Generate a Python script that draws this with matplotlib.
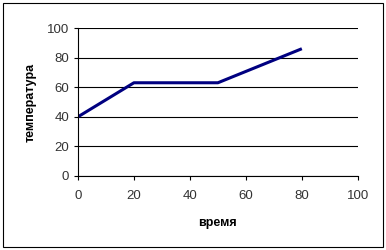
import matplotlib.pyplot as plt
from matplotlib.patches import Rectangle

plt.rcParams['font.family'] = ['Liberation Sans', 'DejaVu Sans']

time = [0, 20, 50, 80]
temp = [40, 63, 63, 86]
ticks = [0, 20, 40, 60, 80, 100]

fig = plt.figure(figsize=(3.86, 2.5), dpi=100)
ax = fig.add_axes([0.202, 0.296, 0.725, 0.592])

ax.plot(time, temp, color='#000080', lw=2.2, solid_capstyle='butt')

ax.set_xlim(0, 100)
ax.set_ylim(0, 100)
ax.set_xticks(ticks)
ax.set_yticks(ticks)
ax.grid(axis='y', color='black', lw=0.8)
ax.set_axisbelow(True)
for s in ['top', 'right']:
    ax.spines[s].set_visible(False)
for s in ['left', 'bottom']:
    ax.spines[s].set_linewidth(0.8)
ax.tick_params(labelsize=9.5, length=3, width=0.8, color='black', labelcolor='#333333')
ax.tick_params(axis='x', pad=7)

ax.set_xlabel('время', fontsize=9, fontweight='bold', labelpad=11)
ax.set_ylabel('температура', fontsize=9, fontweight='bold', labelpad=7)

fig.patches.append(Rectangle((0.008, 0.012), 0.984, 0.976, transform=fig.transFigure,
                             fill=False, edgecolor='black', lw=0.8))

fig.savefig('out.png', dpi=100)
